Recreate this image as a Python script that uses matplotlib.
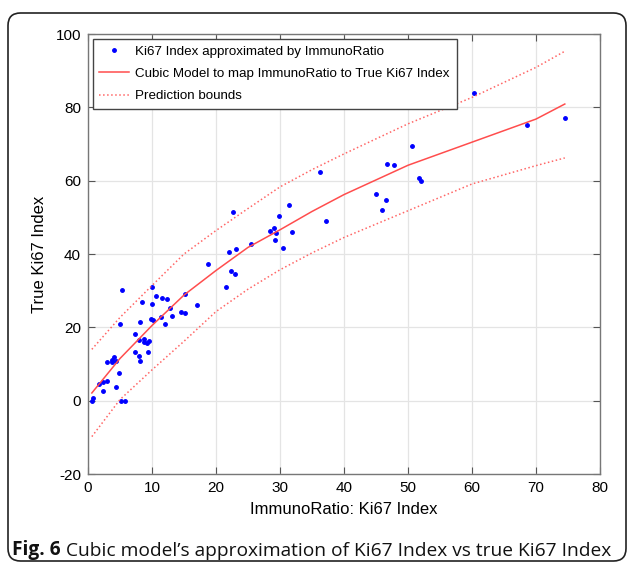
import matplotlib
matplotlib.use('Agg')
import matplotlib.pyplot as plt
from matplotlib.patches import FancyBboxPatch

plt.rcParams['axes.unicode_minus'] = False

# measured points (ImmunoRatio vs true Ki67)
immuno_x = [0.6, 0.8, 1.7, 2.4, 2.4, 3.0, 4.4, 4.8, 3.0, 3.7, 3.7, 4.1, 4.4, 5.2, 5.8, 5.3, 5.0,
            7.3, 7.3, 8.0, 8.2, 8.0, 8.7, 8.7, 9.2, 9.6, 9.4, 8.2, 8.4, 9.9, 10.2, 10.0, 10.0,
            10.6, 11.6, 12.4, 11.4, 12.0, 12.8, 13.2, 14.5, 15.1, 15.1, 17.1, 18.7, 21.6, 22.1,
            23.1, 22.3, 23.0, 22.7, 25.4, 28.5, 29.0, 29.3, 29.2, 29.9, 30.4, 31.4, 31.9, 36.3,
            37.2, 45.0, 46.0, 46.5, 46.7, 47.8, 50.6, 51.7, 52.1, 60.3, 68.6, 74.5]
true_y = [0.0, 0.6, 4.6, 2.6, 5.1, 5.3, 3.8, 7.6, 10.6, 10.6, 11.1, 11.9, 10.8, 0.0, 0.0, 30.2, 20.9,
          18.2, 13.2, 12.3, 10.8, 16.6, 16.8, 15.9, 15.7, 16.3, 13.2, 21.4, 26.8, 22.4, 22.1, 26.4, 30.9,
          28.6, 28.0, 27.8, 22.9, 20.8, 25.2, 23.2, 24.3, 24.0, 29.2, 26.0, 37.4, 30.9, 40.5,
          41.5, 35.5, 34.6, 51.4, 42.6, 46.3, 47.0, 45.6, 43.8, 50.5, 41.6, 53.4, 46.1, 62.3,
          49.0, 56.5, 51.9, 54.8, 64.5, 64.2, 69.4, 60.8, 60.0, 83.9, 75.2, 77.2]

# cubic model and prediction bounds
curve_x = [0.6, 5, 10, 15, 20, 25, 30, 35, 40, 50, 60, 70, 74.5]
fit_y = [2.1, 11.5, 20.5, 28.8, 35.5, 41.8, 46.6, 51.6, 56.2, 64.2, 70.5, 76.8, 80.9]
upper_y = [14.0, 22.7, 31.4, 40.0, 46.4, 52.4, 58.3, 63.0, 67.3, 75.5, 82.7, 90.9, 95.3]
lower_y = [-9.8, 0.3, 8.4, 16.2, 24.3, 30.4, 35.7, 40.3, 44.5, 51.8, 59.1, 64.1, 66.2]

fig = plt.figure(figsize=(6.27, 5.63), dpi=100)

frame = FancyBboxPatch((8 / 627, 1 - 561 / 563), 618 / 627, 548 / 563,
                       boxstyle='round,pad=0,rounding_size=0.02', mutation_aspect=627 / 563,
                       transform=fig.transFigure, facecolor='none', edgecolor='#222222',
                       linewidth=1.2, clip_on=False)
fig.patches.append(frame)

ax = fig.add_axes([88 / 627, 1 - 474 / 563, 512 / 627, 440 / 563])
font = 'Liberation Sans'

ax.plot(immuno_x, true_y, '.', color='#0000ff', markersize=5,
        label='Ki67 Index approximated by ImmunoRatio')
ax.plot(curve_x, fit_y, '-', color='#ff4d4d', linewidth=1.1,
        label='Cubic Model to map ImmunoRatio to True Ki67 Index')
ax.plot(curve_x, upper_y, ':', color='#ff6666', linewidth=1.1, label='Prediction bounds')
ax.plot(curve_x, lower_y, ':', color='#ff6666', linewidth=1.1)

ax.set_xlim(0, 80)
ax.set_ylim(-20, 100)
ax.set_xticks(range(0, 81, 10))
ax.set_yticks(range(-20, 101, 20))
ax.grid(True, color='#e4e4e4', linewidth=0.9)
ax.set_axisbelow(True)
ax.tick_params(direction='in', top=True, right=True, length=5, color='#555555',
               labelsize=11, pad=5)
for lab in ax.get_xticklabels() + ax.get_yticklabels():
    lab.set_family(font)
for sp in ax.spines.values():
    sp.set_color('#777777')
    sp.set_linewidth(1.0)

ax.set_xlabel('ImmunoRatio: Ki67 Index', family=font, fontsize=12, labelpad=5)
ax.set_ylabel('True Ki67 Index', family=font, fontsize=12, labelpad=6)

leg = ax.legend(loc='upper left', prop={'family': font, 'size': 9.6}, fancybox=False,
                edgecolor='#444444', framealpha=1, handlelength=2.2, handletextpad=0.5,
                borderaxespad=0.35, labelspacing=0.75, borderpad=0.5)
leg.get_frame().set_linewidth(1.0)

t1 = fig.text(12 / 627, 1 - 555 / 563, 'Fig. 6', family='Open Sans', fontsize=13.8,
              fontweight='bold', color='#111111')
ax.annotate(' Cubic model\u2019s approximation of Ki67 Index vs true Ki67 Index',
            xy=(1, 0), xycoords=t1, va='bottom', ha='left', family='Open Sans',
            fontsize=13.8, color='#111111', annotation_clip=False)

fig.savefig('out.png', dpi=100)
